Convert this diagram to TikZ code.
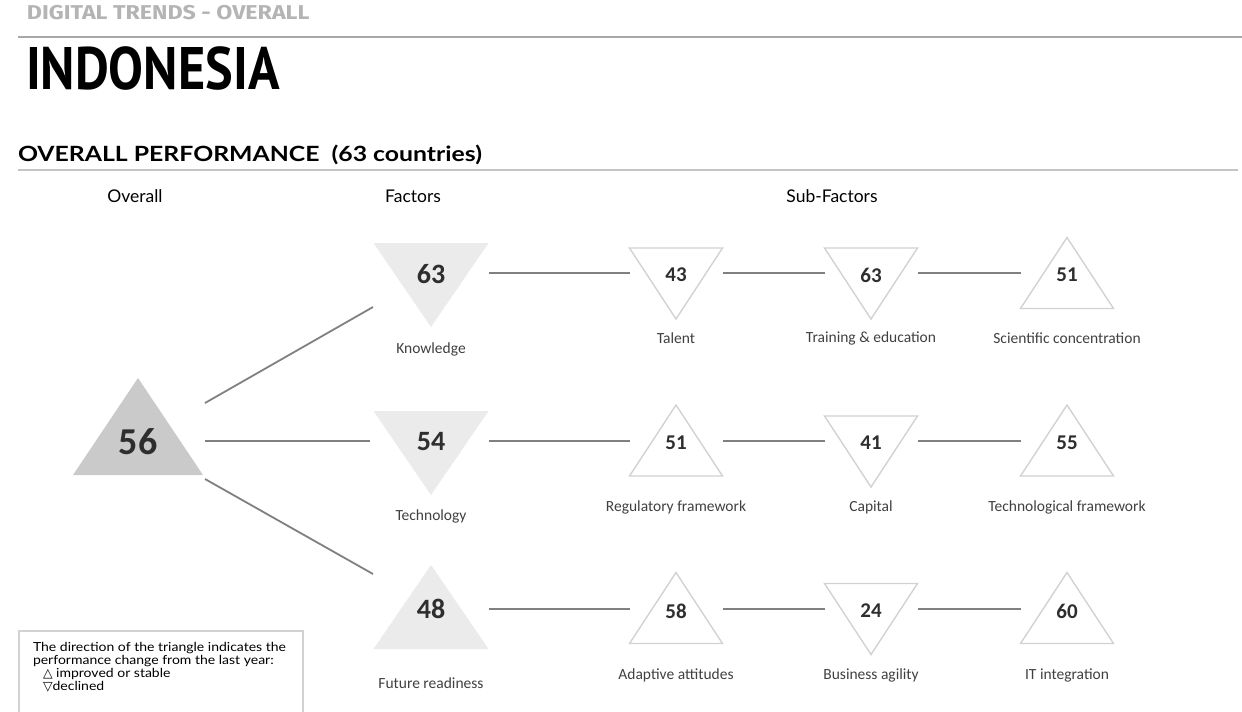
\documentclass[tikz,border=0pt]{standalone}
\usepackage{fontspec}
\setmainfont{Lato}
\newfontfamily\dinfont[FakeStretch=0.87]{PT Sans}
\newfontfamily\hdrfont[FakeStretch=1.16]{Fira Sans}
\newfontfamily\widefont[FakeStretch=1.18]{Lato}
\newfontfamily\legfont[FakeStretch=1.12]{Lato}
\newfontfamily\calfont{Carlito}
\newfontfamily\symfont{DejaVu Sans}
\usetikzlibrary{calc}
\definecolor{hdrgray}{HTML}{B4B4B4}
\definecolor{rulegray}{HTML}{A8A8A8}
\definecolor{rule2}{HTML}{C4C4C4}
\definecolor{overfill}{HTML}{CACACA}
\definecolor{factfill}{HTML}{EBEBEB}
\definecolor{substroke}{HTML}{D2D2D2}
\definecolor{conngray}{HTML}{808080}
\definecolor{numcol}{HTML}{2E2E2E}
\definecolor{labcol}{HTML}{404040}
\newcommand\uptri[2]{\path[#2] (#1.south west) -- (#1.north) -- (#1.south east) -- cycle;}
\newcommand\dntri[2]{\path[#2] (#1.north west) -- (#1.south) -- (#1.north east) -- cycle;}
\begin{document}
\begin{tikzpicture}[x=1pt,y=-1pt,
  frame/.style={inner sep=0pt, outer sep=0pt},
  subbox/.style={frame, minimum width=93pt, minimum height=71pt},
  factbox/.style={frame, minimum width=115pt, minimum height=84pt},
  subtri/.style={draw=substroke, line width=1.4pt, line join=miter},
  facttri/.style={fill=factfill},
  overtri/.style={fill=overfill},
  conn/.style={draw=conngray, line width=1.8pt},
  subnum/.style={frame, text=numcol, font=\calfont\bfseries\fontsize{21}{21}\selectfont},
  factnum/.style={frame, text=numcol, font=\calfont\bfseries\fontsize{28}{28}\selectfont},
  lab/.style={frame, text=labcol, font=\calfont\fontsize{15.5}{15.5}\selectfont},
  colhead/.style={frame, text=black, font=\fontsize{17.5}{17.5}\selectfont}
]
\useasboundingbox (0,0) rectangle (1242,712);
\fill[white] (0,0) rectangle (1242,712);

% header
\node[frame, anchor=west, text=hdrgray, font=\hdrfont\bfseries\fontsize{20}{20}\selectfont] (hdr) at (27,13) {DIGITAL TRENDS - OVERALL};
\draw[rulegray, line width=2pt] (18,37) -- (1242,37);
\node[frame, anchor=west, text=black, font=\dinfont\bfseries\fontsize{60}{60}\selectfont] (title) at (26,68) {INDONESIA};
\node[frame, anchor=west, text=black, font=\widefont\bfseries\fontsize{21}{21}\selectfont] (perf) at (18,155) {OVERALL PERFORMANCE\ \ (63 countries)};
\draw[rule2, line width=1.2pt] (18,170) -- (1238,170);

% column headers
\node[colhead] (h1) at (135,196) {Overall};
\node[colhead] (h2) at (413,196) {Factors};
\node[colhead] (h3) at (832,196) {Sub-Factors};

% row reference coordinates
\coordinate (r1) at (0,273);
\coordinate (r2) at (0,441);
\coordinate (r3) at (0,609);

% overall
\node[frame, minimum width=130pt, minimum height=97pt] (o) at (138,426.5) {};
\uptri{o}{overtri}
\node[frame, text=numcol, font=\calfont\bfseries\fontsize{38}{38}\selectfont] (on) at (138,442) {56};

% factors
\node[factbox] (k) at (431,285) {};
\dntri{k}{facttri}
\node[factnum] (kn) at (431,274) {63};
\node[lab] (kl) at (431,349) {Knowledge};

\node[factbox] (te) at (431,453) {};
\dntri{te}{facttri}
\node[factnum] (ten) at (431,442) {54};
\node[lab] (tel) at (431,516) {Technology};

\node[factbox] (f) at (431,607) {};
\uptri{f}{facttri}
\node[factnum] (fn) at (431,609) {48};
\node[lab] (fl) at (431,683) {Future readiness};

% sub-factors row 1
\node[subbox] (s11) at (676,283.5) {};
\dntri{s11}{subtri}
\node[subnum] (s11n) at (676,275) {43};
\node[lab] (s11l) at (676,338) {Talent};
\node[subbox] (s12) at (871,283.5) {};
\dntri{s12}{subtri}
\node[subnum] (s12n) at (871,275) {63};
\node[lab] (s12l) at (871,338) {Training \& education};
\node[subbox] (s13) at (1067,273) {};
\uptri{s13}{subtri}
\node[subnum] (s13n) at (1067,275) {51};
\node[lab] (s13l) at (1067,338) {Scientific concentration};

% sub-factors row 2
\node[subbox] (s21) at (676,440.5) {};
\uptri{s21}{subtri}
\node[subnum] (s21n) at (676,443) {51};
\node[lab] (s21l) at (676,507) {Regulatory framework};
\node[subbox] (s22) at (871,451.5) {};
\dntri{s22}{subtri}
\node[subnum] (s22n) at (871,443) {41};
\node[lab] (s22l) at (871,507) {Capital};
\node[subbox] (s23) at (1067,440.5) {};
\uptri{s23}{subtri}
\node[subnum] (s23n) at (1067,443) {55};
\node[lab] (s23l) at (1067,507) {Technological framework};

% sub-factors row 3
\node[subbox] (s31) at (676,608) {};
\uptri{s31}{subtri}
\node[subnum] (s31n) at (676,611) {58};
\node[lab] (s31l) at (676,675) {Adaptive attitudes};
\node[subbox] (s32) at (871,619) {};
\dntri{s32}{subtri}
\node[subnum] (s32n) at (871,611) {24};
\node[lab] (s32l) at (871,675) {Business agility};
\node[subbox] (s33) at (1067,608) {};
\uptri{s33}{subtri}
\node[subnum] (s33n) at (1067,611) {60};
\node[lab] (s33l) at (1067,675) {IT integration};

% connectors overall -> factors
\coordinate (oa) at (205,403);
\coordinate (ob) at (205,441);
\coordinate (oc) at (205,479);
\coordinate (ka) at (373,307);
\coordinate (tb) at (370,441);
\coordinate (fc) at (373,574);
\draw[conn] (oa) -- (ka);
\draw[conn] (ob) -- (tb);
\draw[conn] (oc) -- (fc);

% connectors rows
\draw[conn] (k.east |- r1) -- (s11.west |- r1);
\draw[conn] (s11.east |- r1) -- (s12.west |- r1);
\draw[conn] (s12.east |- r1) -- (s13.west |- r1);
\draw[conn] (te.east |- r2) -- (s21.west |- r2);
\draw[conn] (s21.east |- r2) -- (s22.west |- r2);
\draw[conn] (s22.east |- r2) -- (s23.west |- r2);
\draw[conn] (f.east |- r3) -- (s31.west |- r3);
\draw[conn] (s31.east |- r3) -- (s32.west |- r3);
\draw[conn] (s32.east |- r3) -- (s33.west |- r3);

% legend
\draw[draw=substroke, line width=1.2pt] (19,631) rectangle (303,730);
\node[frame, anchor=west, align=left, text=black, font=\legfont\fontsize{12.5}{13}\selectfont] (leg) at (33,667)
 {The direction of the triangle indicates the\\performance change from the last year:\\\hspace{10pt}{\symfont △} improved or stable\\\hspace{10pt}{\symfont ▽}declined};
\end{tikzpicture}
\end{document}
